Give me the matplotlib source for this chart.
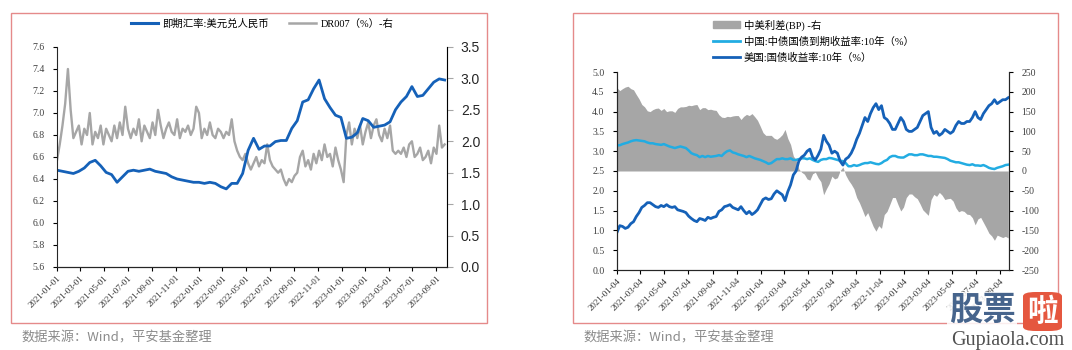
import numpy as np
import pandas as pd
import matplotlib.pyplot as plt
from matplotlib.patches import Rectangle, FancyBboxPatch, Patch
from matplotlib.lines import Line2D

SERIF = ['Liberation Serif', 'Noto Sans CJK SC']
SANS = ['Noto Sans CJK SC', 'DejaVu Sans']

# USD/CNY spot, every two weeks from 2021-01-01
usdcny = [6.48, 6.47, 6.46, 6.45, 6.47, 6.50, 6.55, 6.57, 6.52, 6.46, 6.44, 6.37,
          6.42, 6.47, 6.48, 6.47, 6.48, 6.49, 6.47, 6.46, 6.45, 6.42, 6.40, 6.39,
          6.38, 6.37, 6.37, 6.36, 6.37, 6.36, 6.33, 6.31, 6.36, 6.36, 6.45, 6.66,
          6.77, 6.67, 6.70, 6.70, 6.74, 6.75, 6.75, 6.86, 6.93, 7.10, 7.12, 7.22,
          7.30, 7.13, 7.05, 6.98, 6.96, 6.77, 6.78, 6.82, 6.95, 6.93, 6.87, 6.88,
          6.89, 6.92, 7.03, 7.10, 7.15, 7.24, 7.15, 7.16, 7.22, 7.28, 7.31, 7.30]

# DR007 (%), weekly from 2021-01-01
dr007 = [1.70, 1.95, 2.25, 2.60, 3.15, 2.50, 2.05, 2.15, 2.25, 1.95, 2.20, 2.10,
         2.45, 1.95, 2.15, 2.05, 2.25, 1.95, 2.20, 2.10, 2.00, 2.25, 2.05, 2.30,
         2.10, 2.55, 2.20, 2.05, 2.20, 2.10, 2.35, 2.00, 2.25, 2.15, 2.05, 2.30,
         2.10, 2.50, 2.25, 2.05, 2.20, 2.30, 2.15, 2.10, 2.35, 2.05, 2.20, 2.15,
         2.25, 2.10, 2.20, 2.55, 2.45, 2.05, 2.20, 2.10, 2.30, 2.10, 2.05, 2.20,
         2.15, 2.05, 2.15, 2.10, 2.35, 2.00, 1.85, 1.75, 1.70, 1.80, 1.65, 1.55,
         1.65, 1.75, 1.60, 1.70, 1.65, 1.95, 1.70, 1.60, 1.55, 1.50, 1.55, 1.40,
         1.30, 1.40, 1.35, 1.45, 1.50, 1.75, 1.85, 1.60, 1.70, 1.55, 1.80, 1.65,
         1.85, 1.70, 1.95, 1.75, 1.80, 1.60, 1.90, 1.70, 1.55, 1.35, 2.10, 2.30,
         1.95, 2.20, 2.05, 2.25, 1.95, 2.15, 2.30, 2.05, 2.25, 2.35, 2.10, 2.00,
         2.20, 2.05, 2.25, 1.85, 1.80, 1.85, 1.80, 1.90, 1.75, 1.95, 2.00, 1.75,
         1.80, 1.90, 1.70, 1.75, 1.85, 1.65, 1.90, 1.80, 2.25, 1.90, 1.95]

# China 10Y government bond yield (%), weekly from 2021-01-04
cn10y = [3.15, 3.15, 3.18, 3.20, 3.22, 3.25, 3.27, 3.28, 3.27, 3.26, 3.25, 3.22,
         3.20, 3.20, 3.18, 3.17, 3.16, 3.18, 3.15, 3.12, 3.10, 3.08, 3.10, 3.12,
         3.10, 3.08, 3.02, 2.95, 2.92, 2.90, 2.85, 2.88, 2.85, 2.88, 2.86, 2.87,
         2.88, 2.90, 2.88, 2.95, 3.00, 3.02, 2.97, 2.95, 2.92, 2.90, 2.88, 2.85,
         2.88, 2.85, 2.82, 2.80,
         2.78, 2.75, 2.72, 2.68, 2.70, 2.75, 2.80, 2.80, 2.82, 2.80, 2.80, 2.82,
         2.78, 2.78, 2.80, 2.82, 2.82, 2.80, 2.82, 2.78, 2.75, 2.73, 2.78, 2.80,
         2.80, 2.83, 2.82, 2.80, 2.78, 2.76, 2.75, 2.70, 2.62, 2.62, 2.65, 2.63,
         2.65, 2.68, 2.70, 2.70, 2.72, 2.70, 2.68, 2.67, 2.70, 2.75, 2.78, 2.85,
         2.88, 2.88, 2.85, 2.84,
         2.84, 2.88, 2.92, 2.92, 2.90, 2.90, 2.92, 2.92, 2.90, 2.88, 2.88, 2.86,
         2.86, 2.85, 2.84, 2.83, 2.80, 2.76, 2.74, 2.72, 2.72, 2.70, 2.68, 2.66,
         2.65, 2.67, 2.64, 2.64, 2.63, 2.65, 2.62, 2.58, 2.56, 2.55, 2.58, 2.60,
         2.62, 2.65, 2.66]

# US 10Y treasury yield (%), weekly from 2021-01-04
us10y = [0.95, 1.12, 1.10, 1.05, 1.08, 1.17, 1.22, 1.35, 1.45, 1.58, 1.63, 1.70,
         1.70, 1.65, 1.60, 1.58, 1.63, 1.60, 1.65, 1.60, 1.58, 1.60, 1.52, 1.50,
         1.48, 1.45, 1.36, 1.30, 1.25, 1.22, 1.30, 1.28, 1.25, 1.33, 1.30, 1.33,
         1.35, 1.48, 1.52, 1.60, 1.62, 1.65, 1.58, 1.55, 1.52, 1.60, 1.50, 1.42,
         1.48, 1.40, 1.45, 1.52,
         1.65, 1.78, 1.82, 1.78, 1.80, 1.92, 2.00, 1.95, 1.90, 1.75, 1.98, 2.15,
         2.40, 2.50, 2.75, 2.85, 2.90, 3.00, 3.05, 2.85, 2.78, 2.90, 3.05, 3.40,
         3.25, 3.15, 2.95, 3.00, 2.95, 2.75, 2.65, 2.80, 2.85, 2.95, 3.10, 3.30,
         3.45, 3.65, 3.85, 3.75, 3.95, 4.10, 4.20, 4.05, 4.15, 3.85, 3.80, 3.70,
         3.55, 3.55, 3.70, 3.85,
         3.75, 3.55, 3.50, 3.50, 3.55, 3.60, 3.75, 3.90, 3.95, 4.00, 3.60, 3.45,
         3.50, 3.40, 3.45, 3.55, 3.50, 3.45, 3.50, 3.65, 3.75, 3.70, 3.70, 3.75,
         3.75, 3.85, 4.00, 3.85, 3.80, 3.95, 4.05, 4.15, 4.20, 4.30, 4.20, 4.25,
         4.30, 4.30, 4.35]

# China-US 10Y spread (BP), weekly from 2021-01-04
spread_bp = [210, 203, 208, 212, 214, 208, 205, 193, 182, 168, 162, 152,
             150, 155, 158, 159, 153, 158, 150, 152, 152, 148, 158, 162,
             162, 163, 166, 165, 167, 168, 155, 160, 160, 155, 156, 154,
             153, 142, 136, 135, 138, 137, 139, 140, 140, 130, 138, 143,
             140, 145, 137, 128,
             113, 97, 90, 90, 90, 83, 80, 85, 92, 105, 82, 67,
             38, 28, 5, -3, -8, -20, -23, -7, -3, -17, -27, -60,
             -45, -32, -13, -20, -17, 1, 10, -10, -23, -33, -45, -67,
             -80, -97, -115, -105, -123, -140, -152, -138, -145, -110, -102, -85,
             -67, -67, -85, -101,
             -91, -67, -58, -58, -65, -70, -83, -98, -105, -112, -72, -59,
             -64, -54, -61, -72, -70, -69, -76, -93, -103, -100, -102, -109,
             -110, -118, -136, -121, -117, -130, -143, -157, -164, -175, -162, -165,
             -168, -165, -169]

fx_dates = pd.date_range('2021-01-01', periods=len(usdcny), freq='14D')
dr_dates = pd.date_range('2021-01-01', periods=len(dr007), freq='7D')
bond_dates = pd.date_range('2021-01-04', periods=len(us10y), freq='7D')

BLUE = '#1561B8'
LIGHT_BLUE = '#22ACE2'
GRAY = '#A6A6A6'
FRAME = '#E58A8A'

fig = plt.figure(figsize=(10.72, 3.5), dpi=100)


def px_axes(x0, y0, x1, y1):
    W, H = 1072, 350
    return fig.add_axes([x0 / W, 1 - y1 / H, (x1 - x0) / W, (y1 - y0) / H])


def style_dates(ax, ticks):
    ax.set_xticks(ticks)
    ax.set_xticklabels([t.strftime('%Y-%m-%d') for t in ticks], rotation=45,
                       ha='right', rotation_mode='anchor', family=SERIF,
                       fontsize=6.5, color='#333333')
    ax.tick_params(axis='x', length=3, width=0.8, direction='out', pad=2)


# ---- left: USD/CNY vs DR007 ----
ax1 = px_axes(57, 47, 447, 267)
ax1r = ax1.twinx()
ax1.set_zorder(ax1r.get_zorder() + 1)
ax1.patch.set_visible(False)

ax1r.plot(dr_dates, dr007, color=GRAY, lw=1.7)
ax1.plot(fx_dates, usdcny, color=BLUE, lw=2.0)

ax1.set_xlim(pd.Timestamp('2021-01-01'), pd.Timestamp('2023-09-28'))
ax1.set_ylim(5.6, 7.6)
ax1.set_yticks(np.arange(5.6, 7.61, 0.2))
ax1.set_yticklabels([f'{v:.1f}' for v in np.arange(5.6, 7.61, 0.2)],
                    family=SERIF, fontsize=7, color='#404040')
ax1r.set_ylim(0, 3.5)
ax1r.set_yticks(np.arange(0, 3.51, 0.5))
ax1r.set_yticklabels([f'{v:.1f}' for v in np.arange(0, 3.51, 0.5)],
                     family=['Liberation Sans'], fontsize=10, color='#262626')
ax1.tick_params(axis='y', length=3, width=0.8, pad=6)
ax1r.tick_params(axis='y', length=4, width=0.8, color=GRAY, pad=6)
style_dates(ax1, pd.date_range('2021-01-01', '2023-09-01', freq='2MS'))
for a in (ax1, ax1r):
    a.spines['top'].set_visible(False)
ax1.spines['left'].set_color('#262626')
ax1.spines['bottom'].set_color('#262626')
ax1r.spines['right'].set_color(GRAY)
ax1r.spines['left'].set_visible(False)

h1 = [Line2D([], [], color=BLUE, lw=2.2), Line2D([], [], color=GRAY, lw=1.8)]
fig.legend(h1, ['即期汇率:美元兑人民币', 'DR007（%）-右'], loc='center',
           bbox_to_anchor=(262 / 1072, 1 - 24 / 350), ncol=2, frameon=False,
           prop={'family': SERIF, 'size': 7.5}, handlelength=2.6,
           columnspacing=2.0, handletextpad=0.4)

# ---- right: China vs US 10Y yields ----
ax2 = px_axes(617, 72, 1009, 270)
ax2r = ax2.twinx()
ax2.set_zorder(ax2r.get_zorder() + 1)
ax2.patch.set_visible(False)

ax2r.fill_between(bond_dates, 0, spread_bp, color=GRAY, lw=0)
ax2.plot(bond_dates, cn10y, color=LIGHT_BLUE, lw=1.8)
ax2.plot(bond_dates, us10y, color=BLUE, lw=2.0)

ax2.set_xlim(pd.Timestamp('2021-01-04'), pd.Timestamp('2023-09-27'))
ax2.set_ylim(0, 5)
ax2.set_yticks(np.arange(0, 5.01, 0.5))
ax2.set_yticklabels([f'{v:.1f}' for v in np.arange(0, 5.01, 0.5)],
                    family=SERIF, fontsize=7, color='#404040')
ax2r.set_ylim(-250, 250)
ax2r.set_yticks(np.arange(-250, 251, 50))
ax2r.set_yticklabels([str(v) for v in np.arange(-250, 251, 50)],
                     family=SERIF, fontsize=7, color='#404040')
ax2.tick_params(axis='y', length=3, width=0.8, pad=6)
ax2r.tick_params(axis='y', length=3, width=0.8, pad=6)
bond_ticks = [pd.Timestamp('2021-01-04') + pd.DateOffset(months=2 * k) for k in range(17)]
style_dates(ax2, bond_ticks)
for a in (ax2, ax2r):
    a.spines['top'].set_visible(False)
    a.spines['left'].set_color('#262626')
    a.spines['right'].set_color('#262626')
    a.spines['bottom'].set_color('#262626')

h2 = [Patch(color=GRAY), Line2D([], [], color=LIGHT_BLUE, lw=2.0),
      Line2D([], [], color=BLUE, lw=2.0)]
fig.legend(h2, ['中美利差(BP) -右', '中国:中债国债到期收益率:10年（%）', '美国:国债收益率:10年（%）'],
           loc='upper left', bbox_to_anchor=(704 / 1072, 1 - 10 / 350), ncol=1,
           frameon=False, prop={'family': SERIF, 'size': 7.5}, handlelength=2.6,
           handleheight=0.6, labelspacing=0.55, handletextpad=0.3)

# ---- frames and footnotes ----
for x0, x1 in ((11, 487), (573, 1058)):
    fig.patches.append(Rectangle((x0 / 1072, 1 - 323 / 350), (x1 - x0) / 1072,
                                 310 / 350, transform=fig.transFigure,
                                 fill=False, ec=FRAME, lw=1.0))
fig.text(21 / 1072, 1 - 338 / 350, '数据来源：Wind，平安基金整理', family=SANS,
         fontsize=9.5, color='#8C8C8C', va='center')
fig.text(583 / 1072, 1 - 338 / 350, '数据来源：Wind，平安基金整理', family=SANS,
         fontsize=9.5, color='#8C8C8C', va='center')

# site watermark
fig.text(982 / 1072, 1 - 310 / 350, '股票', family=SANS, fontsize=24,
         fontweight='bold', color='#46648C', ha='center', va='center',
         bbox=dict(boxstyle='square,pad=0.05', fc='white', ec='none', alpha=0.85))
fig.patches.append(FancyBboxPatch((1023 / 1072, 1 - 331 / 350), 39 / 1072, 39 / 350,
                                  boxstyle='round,pad=0,rounding_size=0.012',
                                  transform=fig.transFigure, fc='#E5573F', ec='none'))
fig.text(1042.5 / 1072, 1 - 312 / 350, '啦', family=SANS, fontsize=22,
         fontweight='bold', color='white', ha='center', va='center')
fig.text(1008 / 1072, 1 - 340 / 350, 'Gupiaola.com', family=['Liberation Serif'],
         fontsize=14.5, color='#505050', ha='center', va='center')

fig.savefig('out.png', dpi=100)
